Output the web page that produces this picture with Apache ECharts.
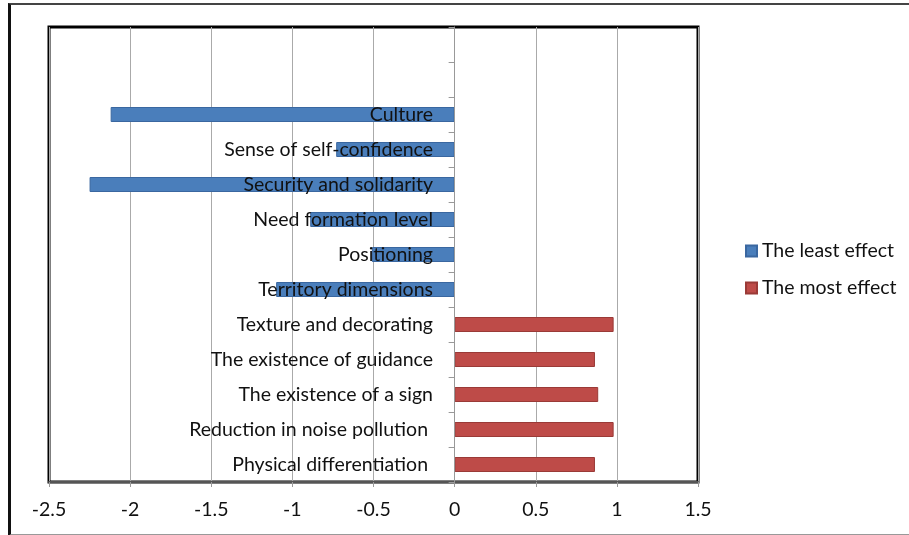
<!DOCTYPE html>
<html>
<head>
<meta charset="utf-8">
<script src="https://cdn.jsdelivr.net/npm/echarts@6/dist/echarts.min.js"></script>
<style>
  html, body { margin: 0; padding: 0; background: #fff; }
  #chart { width: 909px; height: 535px; }
  .frame {
    position: absolute; left: 8px; top: 3px; width: 905px; height: 529px;
    border-left: 3px solid #111; border-top: 2px solid #444; border-bottom: 2px solid #999;
    pointer-events: none;
  }
</style>
</head>
<body>
<div id="chart"></div>
<div class="frame"></div>
<script>
// categories top to bottom (two empty slots at the top)
const categories = [
  '', ' ',
  'Culture',
  'Sense of self-confidence',
  'Security and solidarity',
  'Need formation level',
  'Positioning',
  'Territory dimensions',
  'Texture and decorating',
  'The existence of guidance',
  'The existence of a sign',
  'Reduction in noise pollution ',
  'Physical differentiation '
]
const leastEffect = [null, null, -2.12, -0.73, -2.25, -0.89, -0.51, -1.10, null, null, null, null, null]
const mostEffect = [null, null, null, null, null, null, null, null, 0.98, 0.865, 0.885, 0.98, 0.865]
const xTicks = { min: -2.5, max: 1.5, interval: 0.5 }

const font = 'Lato'
const fs = 19.5
const chart = echarts.init(document.getElementById('chart'))

const option = {
  animation: false,
  textStyle: { fontFamily: font },
  legend: {
    orient: 'vertical',
    left: 740,
    top: 236,
    icon: 'rect',
    itemWidth: 11,
    itemHeight: 11,
    itemGap: 17,
    textStyle: { fontSize: fs, color: '#111', fontFamily: font },
    data: ['The least effect', 'The most effect']
  },
  grid: {
    left: 49,
    right: 211,
    top: 27,
    bottom: 53,
    show: true,
    borderColor: '#000',
    borderWidth: 3,
    containLabel: false,
    outerBoundsMode: 'none'
  },
  xAxis: {
    type: 'value',
    min: xTicks.min,
    max: xTicks.max,
    interval: xTicks.interval,
    axisLine: { show: true, lineStyle: { color: '#555', width: 2 } },
    axisTick: { show: true, length: 5, lineStyle: { color: '#999' } },
    axisLabel: { fontSize: fs, color: '#111', margin: 18, fontFamily: font },
    splitLine: { show: true, lineStyle: { color: '#aaa', width: 1 } }
  },
  yAxis: {
    type: 'category',
    inverse: true,
    data: categories,
    z: 5,
    axisLine: { show: true, onZero: true, lineStyle: { color: '#999', width: 1 } },
    axisTick: { show: true, length: 6, lineStyle: { color: '#999' } },
    // labels sit just left of the zero line, over the bars
    axisLabel: { fontSize: fs, color: '#111', margin: -384, fontFamily: font, interval: 0 }
  },
  series: [
    {
      name: 'The least effect',
      type: 'bar',
      stack: 'all',
      barWidth: 15,
      data: leastEffect,
      itemStyle: { color: '#4a7ebb', borderColor: '#3a67a0', borderWidth: 1 }
    },
    {
      name: 'The most effect',
      type: 'bar',
      stack: 'all',
      barWidth: 15,
      data: mostEffect,
      itemStyle: { color: '#be4b48', borderColor: '#9a3a37', borderWidth: 1 }
    }
  ]
}

chart.setOption(option)
</script>
</body>
</html>
